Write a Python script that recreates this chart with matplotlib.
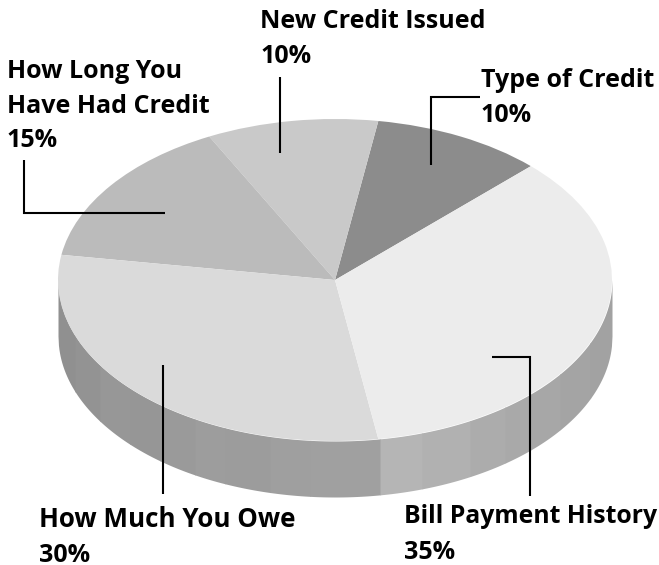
import matplotlib
matplotlib.use("Agg")
import numpy as np
import matplotlib.pyplot as plt

labels = ["Type of Credit", "New Credit Issued", "How Long You\nHave Had Credit", "How Much You Owe", "Bill Payment History"]
shares = [10, 10, 15, 30, 35]
colors = ["#8c8c8c", "#c9c9c9", "#bbbbbb", "#dadada", "#ececec"]

# shaded strips along the rim, left to right
rim_edges = [58, 75, 100, 130, 160, 195, 225, 270, 310, 380, 422, 470, 505, 530, 560, 590, 612]
rim_grays = ["#909090", "#939393", "#979797", "#969696", "#9a9a9a", "#9d9d9d", "#9c9c9c", "#9f9f9f", "#a0a0a0",
             "#b5b5b5", "#b1b1b1", "#acacac", "#a9a9a9", "#a7a7a7", "#a4a4a4", "#a2a2a2"]

W, H = 659, 565
cx, cy = 335, 280
rx, ry = 277, 161
depth = 56

plt.rcParams['font.family'] = ['Open Sans', 'DejaVu Sans']

fig = plt.figure(figsize=(W / 100, H / 100), dpi=100)

# pie axes: one unit is rx pixels across and ry pixels down, which squashes the circle
ax = fig.add_axes([0, 0, 1, 1])
ax.pie(shares, colors=colors, startangle=45, center=(0, 0), radius=1,
       wedgeprops={'linewidth': 0}, frame=True)
ax.set_aspect('auto')
ax.set_xlim(-cx / rx, (W - cx) / rx)
ax.set_ylim((cy - H) / ry, cy / ry)
ax.axis('off')

# rim below the top face
for i in range(len(rim_grays)):
    x = np.linspace(rim_edges[i], rim_edges[i + 1] + 0.6, 40)
    x = np.clip(x, rim_edges[0], rim_edges[-1])
    u = (x - cx) / rx
    low = -np.sqrt(np.clip(1 - u ** 2, 0, 1))
    ax.fill_between(u, low, low - depth / ry, color=rim_grays[i], linewidth=0, zorder=0.5)

# overlay in pixel coordinates for the leader lines and captions
top = fig.add_axes([0, 0, 1, 1], facecolor='none')
top.set_xlim(0, W)
top.set_ylim(H, 0)
top.axis('off')

leaders = [
    ([480, 431, 431], [97, 97, 165]),
    ([280, 280], [77, 153]),
    ([24, 24, 165], [160, 213, 213]),
    ([163, 163], [365, 494]),
    ([492, 530, 530], [357, 357, 496]),
]
for xs, ys in leaders:
    top.plot(xs, ys, color='black', lw=1.5, solid_joinstyle='miter', solid_capstyle='butt')

# left edge and line baselines of each caption
spots = [(481, [87, 122]), (260, [28, 63]), (7, [78, 113, 147]), (39, [527, 562]), (404, [523, 559])]
sizes = [18, 18, 18, 18.7, 17.8]
for name, share, (x, rows), size in zip(labels, shares, spots, sizes):
    lines = name.split("\n") + ["%d%%" % share]
    for line, y in zip(lines, rows):
        top.text(x, y, line, ha='left', va='baseline', fontsize=size if line[0].isalpha() else 18,
                 fontweight='bold', color='black')

fig.savefig("out.png", dpi=100)
